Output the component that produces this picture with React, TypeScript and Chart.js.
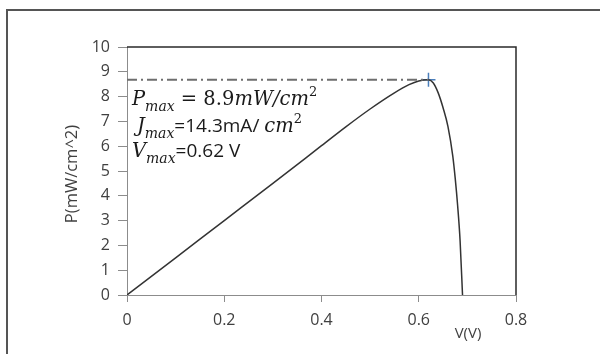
import React, { useEffect, useRef } from "react";
import { Chart, registerables } from "chart.js";

Chart.register(...registerables);

// ---- data ----
const voltage = [0, 0.1, 0.2, 0.3, 0.4, 0.45, 0.5, 0.55, 0.58, 0.6, 0.62, 0.63, 0.64, 0.65, 0.66, 0.67, 0.675, 0.68, 0.685, 0.69];
const power = [0, 1.5, 3.0, 4.5, 6.02, 6.78, 7.5, 8.15, 8.48, 8.63, 8.68, 8.55, 8.15, 7.55, 6.8, 5.6, 4.7, 3.6, 2.2, 0];
const maxPointV = [0.62];
const maxPointP = [8.68];
const guideV = [0, 0.62];
const guideP = [8.68, 8.68];
const xTickValues = [0, 0.2, 0.4, 0.6, 0.8];
const yTickValues = [0, 1, 2, 3, 4, 5, 6, 7, 8, 9, 10];
const yTitle = "P(mW/cm^2)";
const xTitle = "V(V)";

type Seg = { t: string; kind: "it" | "sub" | "rm" | "sans" | "sup" };
const annotationLines: Seg[][] = [
  [
    { t: "P", kind: "it" },
    { t: "max", kind: "sub" },
    { t: " = 8.9", kind: "rm" },
    { t: "mW/cm", kind: "it" },
    { t: "2", kind: "sup" },
  ],
  [
    { t: "J", kind: "it" },
    { t: "max", kind: "sub" },
    { t: "=14.3mA/ ", kind: "sans" },
    { t: "cm", kind: "it" },
    { t: "2", kind: "sup" },
  ],
  [
    { t: "V", kind: "it" },
    { t: "max", kind: "sub" },
    { t: "=0.62 V", kind: "sans" },
  ],
];

const SERIF = '"DejaVu Serif", "Liberation Serif", serif';
const SANS = '"Open Sans", "Noto Sans", sans-serif';

const segFont: Record<Seg["kind"], { font: string; dy: number }> = {
  it: { font: `italic 19.5px ${SERIF}`, dy: 0 },
  sub: { font: `italic 14px ${SERIF}`, dy: 6 },
  rm: { font: `19.5px ${SERIF}`, dy: 0 },
  sans: { font: `19px ${SANS}`, dy: 0 },
  sup: { font: `13px ${SERIF}`, dy: -9 },
};

const decorPlugin = {
  id: "decor",
  beforeDraw(chart: any) {
    const ctx = chart.ctx;
    ctx.save();
    ctx.fillStyle = "#ffffff";
    ctx.fillRect(0, 0, chart.width, chart.height);
    // outer frame (top & left visible)
    ctx.strokeStyle = "#555555";
    ctx.lineWidth = 2;
    ctx.beginPath();
    ctx.moveTo(7, chart.height);
    ctx.lineTo(7, 10);
    ctx.lineTo(chart.width, 10);
    ctx.stroke();
    ctx.restore();
  },
  afterDraw(chart: any) {
    const ctx = chart.ctx;
    const a = chart.chartArea;
    ctx.save();
    // top & right plot border
    ctx.strokeStyle = "#2a2a2a";
    ctx.lineWidth = 1.5;
    ctx.beginPath();
    ctx.moveTo(a.left, a.top);
    ctx.lineTo(a.right, a.top);
    ctx.lineTo(a.right, a.bottom);
    ctx.stroke();

    // y title
    ctx.fillStyle = "#404040";
    ctx.font = `16.5px ${SANS}`;
    ctx.textAlign = "center";
    ctx.textBaseline = "middle";
    ctx.translate(72, (a.top + a.bottom) / 2 + 3);
    ctx.rotate(-Math.PI / 2);
    ctx.fillText(yTitle, 0, 0);
    ctx.setTransform(1, 0, 0, 1, 0, 0);

    // x title
    ctx.font = `15px ${SANS}`;
    ctx.textAlign = "center";
    ctx.fillText(xTitle, 468, 334);

    // annotation text
    ctx.fillStyle = "#1a1a1a";
    ctx.textAlign = "left";
    ctx.textBaseline = "alphabetic";
    const starts = [
      [a.left + 5, 105],
      [a.left + 10, 132],
      [a.left + 5, 157],
    ];
    annotationLines.forEach((segs, i) => {
      let x = starts[i][0];
      const y = starts[i][1];
      segs.forEach((s) => {
        const f = segFont[s.kind];
        ctx.font = f.font;
        ctx.fillText(s.t, x, y + f.dy);
        x += ctx.measureText(s.t).width;
      });
    });
    ctx.restore();
  },
};

export default function App() {
  const ref = useRef<HTMLCanvasElement | null>(null);

  useEffect(() => {
    if (!ref.current) return;
    const axisGray = "#8c8c8c";
    const chart = new Chart(ref.current, {
      type: "scatter",
      data: {
        datasets: [
          {
            label: "guide",
            data: guideV.map((v, i) => ({ x: v, y: guideP[i] })),
            showLine: true,
            borderColor: "#6e6e6e",
            borderWidth: 2,
            borderDash: [10, 4, 2, 4],
            pointRadius: 0,
          },
          {
            label: "P",
            data: voltage.map((v, i) => ({ x: v, y: power[i] })),
            showLine: true,
            borderColor: "#333333",
            borderWidth: 1.5,
            pointRadius: 0,
            cubicInterpolationMode: "monotone",
          },
          {
            label: "max",
            data: maxPointV.map((v, i) => ({ x: v, y: maxPointP[i] })),
            showLine: false,
            pointStyle: "cross",
            pointRadius: 7,
            borderColor: "#4a7ebb",
            borderWidth: 1.5,
          },
        ],
      },
      options: {
        animation: false,
        responsive: false,
        maintainAspectRatio: false,
        layout: { padding: { top: 47, right: 84, left: 0, bottom: 0 } },
        plugins: { legend: { display: false }, tooltip: { enabled: false } },
        scales: {
          x: {
            type: "linear",
            min: 0,
            max: 0.8,
            afterBuildTicks: (s: any) => {
              s.ticks = xTickValues.map((v) => ({ value: v }));
            },
            afterFit: (s: any) => {
              s.height = 59;
            },
            grid: { drawOnChartArea: false, drawTicks: true, tickLength: 7, color: axisGray },
            border: { color: axisGray, width: 1 },
            ticks: {
              color: "#404040",
              font: { family: "Open Sans", size: 16 },
              padding: 9,
              maxRotation: 0,
              callback: (v: any) => (Number(v) === 0 ? "0" : Number(v).toFixed(1)),
            },
          },
          y: {
            type: "linear",
            min: 0,
            max: 10,
            afterBuildTicks: (s: any) => {
              s.ticks = yTickValues.map((v) => ({ value: v }));
            },
            afterFit: (s: any) => {
              s.width = 127;
            },
            grid: { drawOnChartArea: false, drawTicks: true, tickLength: 9, color: axisGray },
            border: { color: axisGray, width: 1 },
            ticks: {
              color: "#404040",
              font: { family: "Open Sans", size: 16 },
              padding: 8,
              callback: (v: any) => String(v),
            },
          },
        },
      },
      plugins: [decorPlugin],
    } as any);
    return () => chart.destroy();
  }, []);

  return (
    <div style={{ position: "absolute", left: 0, top: 0, width: 600, height: 354 }}>
      <canvas ref={ref} width={600} height={354} style={{ width: 600, height: 354, display: "block" }} />
    </div>
  );
}
